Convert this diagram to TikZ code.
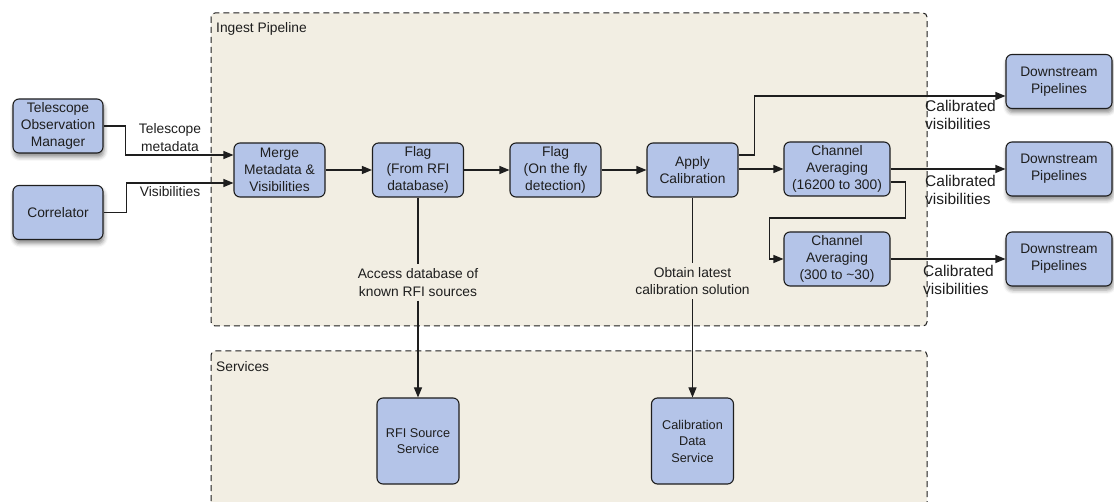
\documentclass[tikz,border=0pt]{standalone}
\usepackage{fontspec}
\setmainfont{Liberation Sans}
\usetikzlibrary{arrows.meta,calc,shadows.blur}
\definecolor{BoxBlue}{RGB}{180,196,232}
\definecolor{PaneBeige}{RGB}{242,238,227}
\definecolor{InkGrey}{RGB}{30,30,30}
\tikzset{
  stagebox/.style={draw=InkGrey, line width=1.1pt, fill=BoxBlue, rounded corners=6pt, align=center,
    inner sep=0pt, minimum width=91pt, minimum height=54pt, text=InkGrey,
    font=\fontsize{13.8}{16.7}\selectfont},
  widebox/.style={stagebox, minimum width=106pt},
  outerbox/.style={stagebox, blur shadow={shadow xshift=1pt, shadow yshift=-4pt,
    shadow blur radius=4pt, shadow opacity=45}},
  svcbox/.style={stagebox, minimum width=82pt, minimum height=86pt,
    font=\fontsize{12.7}{16.5}\selectfont},
  pane/.style={draw=InkGrey, dash pattern=on 6pt off 4pt, line width=1pt, fill=PaneBeige,
    rounded corners=4pt},
  link/.style={draw=InkGrey, line width=1.1pt, -{Triangle[length=10pt,width=8pt]}},
  plainlink/.style={draw=InkGrey, line width=1.1pt},
  note/.style={align=center, text=InkGrey, inner sep=4pt, font=\fontsize{13.8}{17.7}\selectfont},
  sidenote/.style={align=left, anchor=west, text=InkGrey, inner sep=0pt,
    font=\fontsize{15.5}{18}\selectfont},
  panetitle/.style={anchor=west, text=InkGrey, inner sep=0pt, font=\fontsize{13.8}{16}\selectfont},
}

\begin{document}
\begin{tikzpicture}[x=1pt,y=-1pt]
            \useasboundingbox (0,0) rectangle (1114,502);

            \draw[pane] (211,13) rectangle (927,326);
            \draw[pane] (211,351) rectangle (927,520);
            \node[panetitle] (ingestlbl) at (216,29) {Ingest Pipeline};
            \node[panetitle] (serviceslbl) at (216,367) {Services};

            \node[outerbox, minimum width=90pt] (tom) at (58,126) {Telescope\\Observation\\Manager};
            \node[outerbox, minimum width=90pt] (corr) at (58,212.5) {Correlator};

            \node[stagebox] (merge) at (279.5,170) {Merge\\Metadata \&\\Visibilities};
            \node[stagebox] (flagrfi) at (418,170) {Flag\\(From RFI\\database)};
            \node[stagebox] (flagfly) at (555.5,170) {Flag\\(On the fly\\detection)};
            \node[stagebox] (apply) at (692.5,170) {Apply\\Calibration};
            \node[widebox] (avgA) at (837,169) {Channel\\Averaging\\(16200 to 300)};
            \node[widebox] (avgB) at (837,259) {Channel\\Averaging\\(300 to \textasciitilde30)};

            \node[outerbox, minimum width=106pt] (dsA) at (1059,81.5) {Downstream\\Pipelines};
            \node[outerbox, minimum width=106pt] (dsB) at (1059,169) {Downstream\\Pipelines};
            \node[outerbox, minimum width=106pt] (dsC) at (1059,259) {Downstream\\Pipelines};

            \node[svcbox] (rfisvc) at (418,441) {RFI Source\\Service};
            \node[svcbox] (calsvc) at (692.5,441) {Calibration\\Data\\Service};

            \node[note] (tomnote) at (170,137.5) {Telescope\\metadata};
            \node[note] (visnote) at (170,192) {Visibilities};
            \node[note] (rfinote) at (418,282.5) {Access database of\\known RFI sources};
            \node[note] (calnote) at (692.5,281) {Obtain latest\\calibration solution};
            \node[sidenote] (calvisA) at (925,115) {Calibrated\\visibilities};
            \node[sidenote] (calvisB) at (925,190) {Calibrated\\visibilities};
            \node[sidenote] (calvisC) at (923,280) {Calibrated\\visibilities};

            \draw[link] (tom.east) -- ++(22,0) |- ($(merge.west)+(0,-15)$);
            \draw[link] (corr.east) -- ++(23,0) |- ($(merge.west)+(0,13)$);
            \draw[link] (merge) -- (flagrfi);
            \draw[link] (flagrfi) -- (flagfly);
            \draw[link] (flagfly) -- (apply);
            \draw[link] (apply.east |- avgA.west) -- (avgA.west);
            \draw[link] ($(apply.east)+(0,-15)$) -- ++(16,0) |- ($(dsA.west)+(0,14.5)$);
            \draw[link] (avgA) -- (dsB);
            \draw[link] ($(avgA.east)+(0,13)$) -- ++(15,0) -- ++(0,36) -- ++(-136,0) |- (avgB.west);
            \draw[link] (avgB) -- (dsC);
            \draw[plainlink] (flagrfi) -- (rfinote);
            \draw[link] (rfinote) -- (rfisvc);
            \draw[plainlink] (apply) -- (calnote);
            \draw[link] (calnote) -- (calsvc);
        \end{tikzpicture}
\end{document}
